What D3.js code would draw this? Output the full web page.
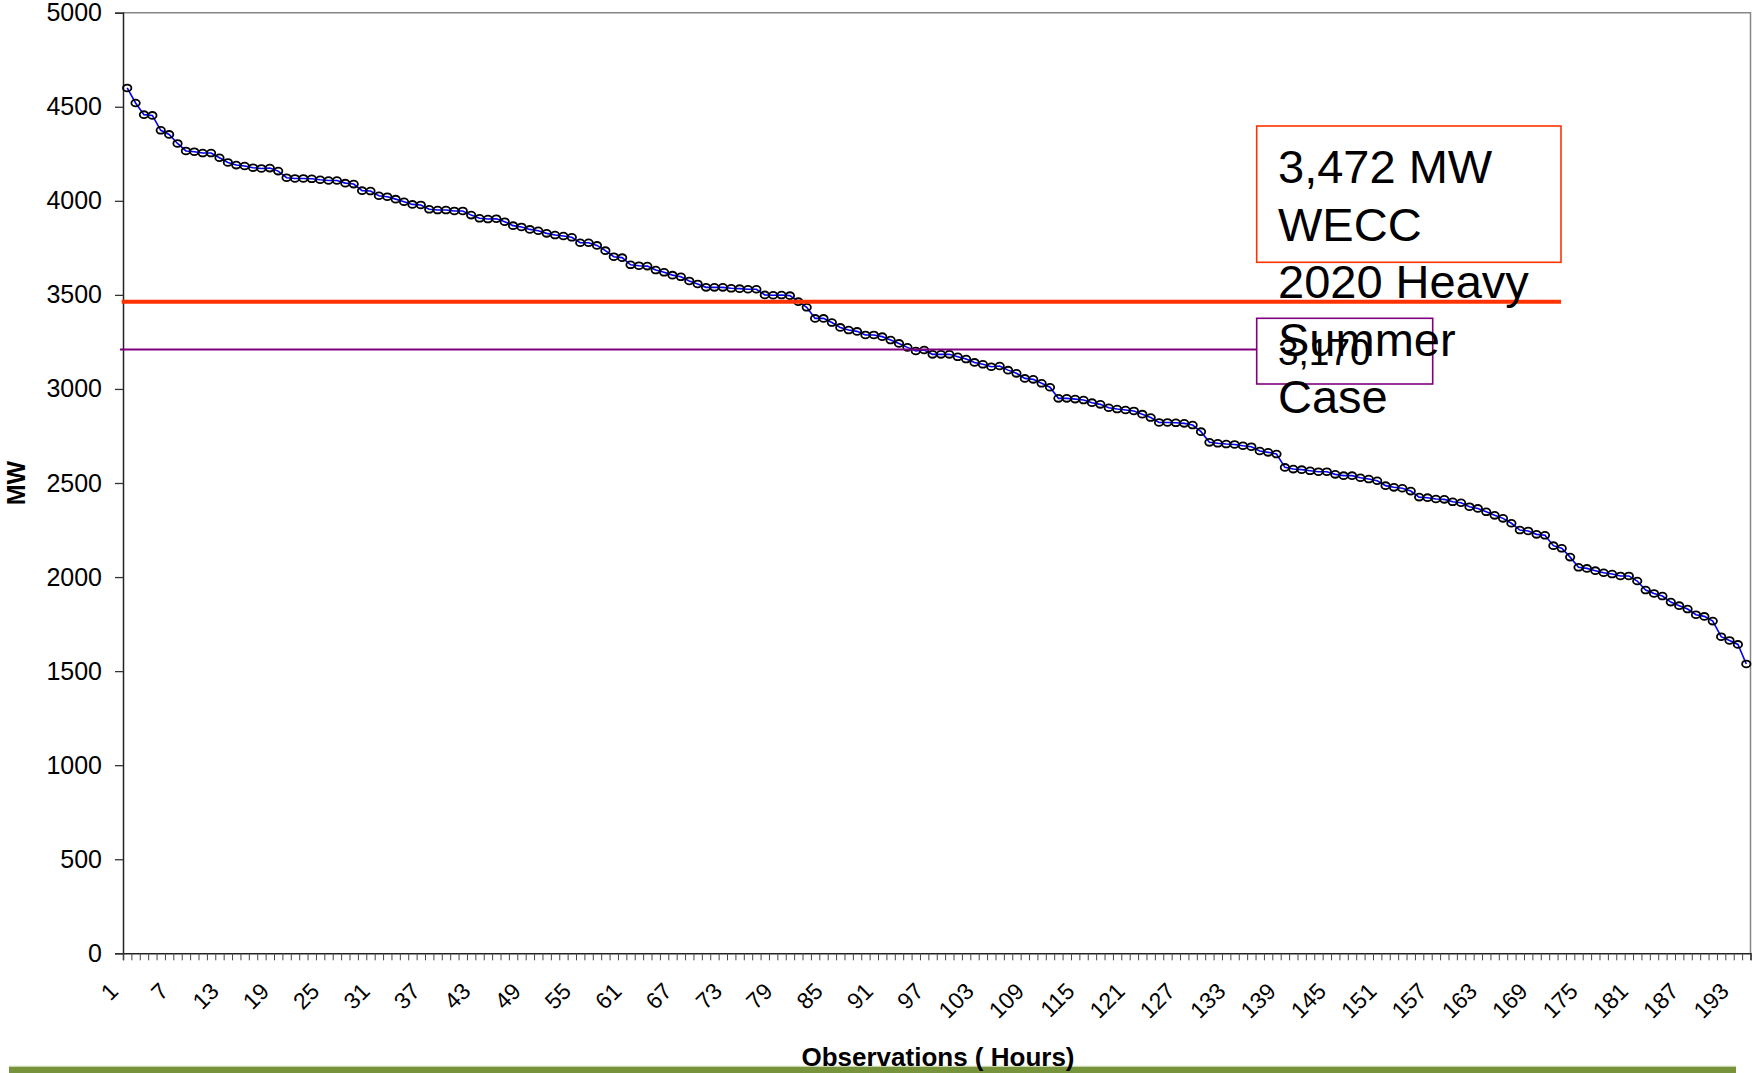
<!DOCTYPE html>
<html>
<head>
<meta charset="utf-8">
<script src="https://cdn.jsdelivr.net/npm/d3@7"></script>
<style>
  html, body { margin: 0; padding: 0; background: #fff; }
  svg { display: block; font-family: "Liberation Sans", Arial, sans-serif; }
</style>
</head>
<body>
<svg id="chart" width="1752" height="1073"></svg>
<script>
// load duration curve, sorted MW values per observation hour
const mwValues = [
  4600, 4520, 4458, 4454, 4375, 4353, 4305, 4265, 4261, 4254,
  4254, 4229, 4204, 4190, 4185, 4176, 4172, 4174, 4158, 4123,
  4119, 4119, 4117, 4112, 4108, 4108, 4094, 4089, 4054, 4052,
  4027, 4022, 4009, 3995, 3981, 3978, 3955, 3951, 3951, 3946,
  3946, 3924, 3907, 3903, 3905, 3889, 3868, 3861, 3848, 3841,
  3827, 3818, 3813, 3806, 3777, 3777, 3763, 3735, 3703, 3698,
  3660, 3655, 3653, 3632, 3620, 3605, 3596, 3574, 3558, 3540,
  3540, 3540, 3535, 3533, 3530, 3530, 3500, 3498, 3499, 3496,
  3464, 3434, 3375, 3375, 3353, 3327, 3313, 3306, 3287, 3287,
  3278, 3260, 3242, 3221, 3202, 3207, 3184, 3184, 3184, 3171,
  3159, 3141, 3131, 3118, 3122, 3100, 3083, 3056, 3051, 3030,
  3009, 2950, 2950, 2946, 2941, 2927, 2918, 2900, 2893, 2888,
  2883, 2866, 2848, 2822, 2822, 2820, 2817, 2808, 2773, 2716,
  2711, 2707, 2705, 2698, 2693, 2670, 2663, 2654, 2583, 2574,
  2571, 2565, 2560, 2560, 2546, 2539, 2539, 2528, 2521, 2512,
  2486, 2477, 2472, 2457, 2425, 2422, 2415, 2413, 2400, 2395,
  2374, 2365, 2347, 2328, 2312, 2286, 2250, 2245, 2227, 2222,
  2167, 2153, 2106, 2052, 2046, 2034, 2023, 2016, 2006, 2006,
  1979, 1931, 1913, 1899, 1867, 1848, 1830, 1800, 1791, 1766,
  1683, 1663, 1642, 1538
];
const hours = mwValues.map((_, i) => i + 1);

const xTickLabels = [1, 7, 13, 19, 25, 31, 37, 43, 49, 55, 61, 67, 73, 79, 85, 91, 97,
  103, 109, 115, 121, 127, 133, 139, 145, 151, 157, 163, 169, 175, 181, 187, 193];
const yTicks = [0, 500, 1000, 1500, 2000, 2500, 3000, 3500, 4000, 4500, 5000];

// reference levels (as drawn) and their callouts
const wecclevel = 3464;
const otherLevel = 3209;
const wecclabel = ["3,472 MW", "WECC", "2020 Heavy", "Summer", "Case"];
const otherLabel = "3,170";

const svg = d3.select("#chart");

const plotL = 123, plotR = 1750.5, plotT = 12.7, plotB = 953.3;

const x = d3.scaleBand().domain(hours).range([plotL, plotR]).padding(0);
const xEdge = d3.scaleLinear().domain([0, hours.length]).range([plotL, plotR]);
const y = d3.scaleLinear().domain([0, 5000]).range([plotB, plotT]);
const cx = d => x(d) + x.bandwidth() / 2;

// plot border (gray top and right)
svg.append("path")
  .attr("d", `M${plotL},${plotT}H${plotR}V${plotB}`)
  .attr("fill", "none")
  .attr("stroke", "#868686")
  .attr("stroke-width", 1.5);

// y axis
const yAxis = svg.append("g")
  .attr("transform", `translate(${plotL},0)`)
  .call(d3.axisLeft(y).tickValues(yTicks).tickSize(8).tickPadding(13).tickFormat(d3.format("d")));
yAxis.select(".domain").attr("stroke", "#222").attr("stroke-width", 1.5);
yAxis.selectAll(".tick line").attr("stroke", "#333").attr("stroke-width", 1.3);
yAxis.selectAll("text").attr("font-size", 25).attr("fill", "#000");

// x axis: tick at every category boundary
const xAxis = svg.append("g")
  .attr("transform", `translate(0,${plotB})`)
  .call(d3.axisBottom(xEdge).tickValues(d3.range(0, hours.length + 1)).tickSize(7).tickFormat(""));
xAxis.select(".domain").attr("stroke", "#222").attr("stroke-width", 1.5);
xAxis.selectAll(".tick line").attr("stroke", "#444").attr("stroke-width", 1);

// rotated category labels, every 6th hour
svg.append("g")
  .selectAll("text")
  .data(xTickLabels)
  .join("text")
  .attr("transform", d => `translate(${cx(d) - 19},${plotB + 28}) rotate(-45)`)
  .attr("text-anchor", "end")
  .attr("dy", "0.7em")
  .attr("font-size", 23)
  .text(d => d);

svg.append("text")
  .attr("transform", "translate(25,483) rotate(-90)")
  .attr("text-anchor", "middle")
  .attr("font-size", 25)
  .attr("font-weight", "bold")
  .text("MW");

// series line + hollow markers
svg.append("path")
  .datum(hours)
  .attr("fill", "none")
  .attr("stroke", "#0000ff")
  .attr("stroke-width", 1.6)
  .attr("d", d3.line().x(d => cx(d)).y(d => y(mwValues[d - 1])));

svg.append("g")
  .selectAll("ellipse")
  .data(hours)
  .join("ellipse")
  .attr("cx", d => cx(d))
  .attr("cy", d => y(mwValues[d - 1]))
  .attr("rx", 4.2)
  .attr("ry", 3.4)
  .attr("fill", "none")
  .attr("stroke", "#000")
  .attr("stroke-width", 1.8);

// reference lines
svg.append("line")
  .attr("x1", 121.7).attr("x2", 1561)
  .attr("y1", y(wecclevel)).attr("y2", y(wecclevel))
  .attr("stroke", "#ff3300")
  .attr("stroke-width", 4);

svg.append("line")
  .attr("x1", 120).attr("x2", 1256.7)
  .attr("y1", y(otherLevel)).attr("y2", y(otherLevel))
  .attr("stroke", "#800080")
  .attr("stroke-width", 2);

// callout boxes
svg.append("rect")
  .attr("x", 1256.7).attr("y", 126)
  .attr("width", 1561 - 1256.7).attr("height", 262.3 - 126)
  .attr("fill", "none")
  .attr("stroke", "#ff3300")
  .attr("stroke-width", 1.6);

svg.append("rect")
  .attr("x", 1256.7).attr("y", 318.3)
  .attr("width", 1432.7 - 1256.7).attr("height", 384 - 318.3)
  .attr("fill", "none")
  .attr("stroke", "#800080")
  .attr("stroke-width", 1.6);

svg.append("text")
  .attr("x", 1278)
  .attr("y", 365)
  .attr("font-size", 37)
  .text(otherLabel);

svg.append("g")
  .selectAll("text")
  .data(wecclabel)
  .join("text")
  .attr("x", 1278)
  .attr("y", (d, i) => 183.3 + i * 57.5)
  .attr("font-size", 47)
  .text(d => d);

// green rule at the bottom
svg.append("rect")
  .attr("x", 9).attr("y", 1067)
  .attr("width", 1736 - 9).attr("height", 6)
  .attr("fill", "#77933c");
svg.append("line")
  .attr("x1", 9).attr("x2", 1736)
  .attr("y1", 1066.3).attr("y2", 1066.3)
  .attr("stroke", "#c9d6ae")
  .attr("stroke-width", 1.2);

// x title sits over the rule
svg.append("text")
  .attr("x", 938)
  .attr("y", 1066)
  .attr("text-anchor", "middle")
  .attr("font-size", 26)
  .attr("font-weight", "bold")
  .text("Observations ( Hours)");
</script>
</body>
</html>
